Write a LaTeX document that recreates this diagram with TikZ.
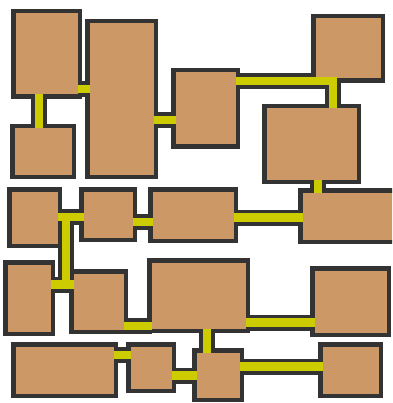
\documentclass[tikz,border=0pt]{standalone}
\usetikzlibrary{backgrounds}
\definecolor{roomtan}{RGB}{204,153,102}
\definecolor{walldark}{RGB}{51,51,51}
\definecolor{corryel}{RGB}{204,204,0}
\tikzset{
  room/.style={draw=walldark, fill=roomtan, line width=4.5pt, inner sep=0pt, outer sep=0pt},
  corrdark/.style={draw=walldark, line width=16pt, line join=miter},
  corrfill/.style={draw=corryel, line width=8.5pt, line join=miter},
  ends/.style={shorten <=-2.25pt, shorten >=-2.25pt},
}
\newcommand\roomxy[5]{%
  \node[room, minimum width={#4-#2-4.5}, minimum height={#5-#3-4.5}] (#1) at ({(#2+#4)/2},{(#3+#5)/2}) {};}
\newcommand\corrpaths[1]{%
  \draw[#1,ends] (A.south -| 39,0) -- (B.north -| 39,0);
  \draw[#1,ends] (A.east |- 0,89) -- (C.west |- 0,89);
  \draw[#1,ends] (C.east |- 0,120) -- (D.west |- 0,120);
  \draw[#1,ends] (D.east |- 0,81) -- (333,81) -- (F.north -| 333,0);
  \draw[#1,ends] (F.south -| 318,0) -- (J.north -| 318,0);
  \draw[#1,ends] (G.east |- 0,217) -- (H.west |- 0,217);
  \draw[#1] (66,217) -- (66,284.5);
  \draw[#1,ends] (K.east |- 0,284.5) -- (L.west |- 0,284.5);
  \draw[#1,ends] (H.east |- 0,222) -- (I.west |- 0,222);
  \draw[#1,ends] (I.east |- 0,217.5) -- (J.west |- 0,217.5);
  \draw[#1,ends] (L.east |- 0,326) -- (M.west |- 0,326);
  \draw[#1,ends] (M.east |- 0,322.5) -- (N.west |- 0,322.5);
  \draw[#1,ends] (O.east |- 0,355) -- (P.west |- 0,355);
  \draw[#1,ends] (P.east |- 0,375.5) -- (Q.west |- 0,375.5);
  \draw[#1,ends] (M.south -| 207,0) -- (Q.north -| 207,0);
  \draw[#1,ends] (Q.east |- 0,366.5) -- (R.west |- 0,366.5);
}
\begin{document}
\begin{tikzpicture}[x=1pt, y=-1pt]
\useasboundingbox (0,0) rectangle (392,403);
\clip (0,0) rectangle (392,403);
\roomxy{A}{11}{9}{82}{99}
\roomxy{B}{10}{124}{76}{179}
\roomxy{C}{85}{19}{158}{179}
\roomxy{D}{171}{68}{240}{149}
\roomxy{E}{311}{14}{385}{83}
\roomxy{F}{262}{104}{361}{184}
\roomxy{G}{7}{187}{62}{248}
\roomxy{H}{79}{187}{137}{242}
\roomxy{I}{148}{187}{238}{243}
\roomxy{J}{298}{188}{400}{244}
\roomxy{K}{3}{260}{55}{336}
\roomxy{L}{69}{269}{128}{334}
\roomxy{M}{147}{258}{250}{333}
\roomxy{N}{310}{266}{391}{337}
\roomxy{O}{11}{342}{118}{398}
\roomxy{P}{126}{342}{176}{393}
\roomxy{Q}{192}{348}{244}{402}
\roomxy{R}{318}{342}{383}{398}
\begin{pgfonlayer}{background}
\corrpaths{corrdark}
\end{pgfonlayer}
\corrpaths{corrfill}
\end{tikzpicture}
\end{document}
